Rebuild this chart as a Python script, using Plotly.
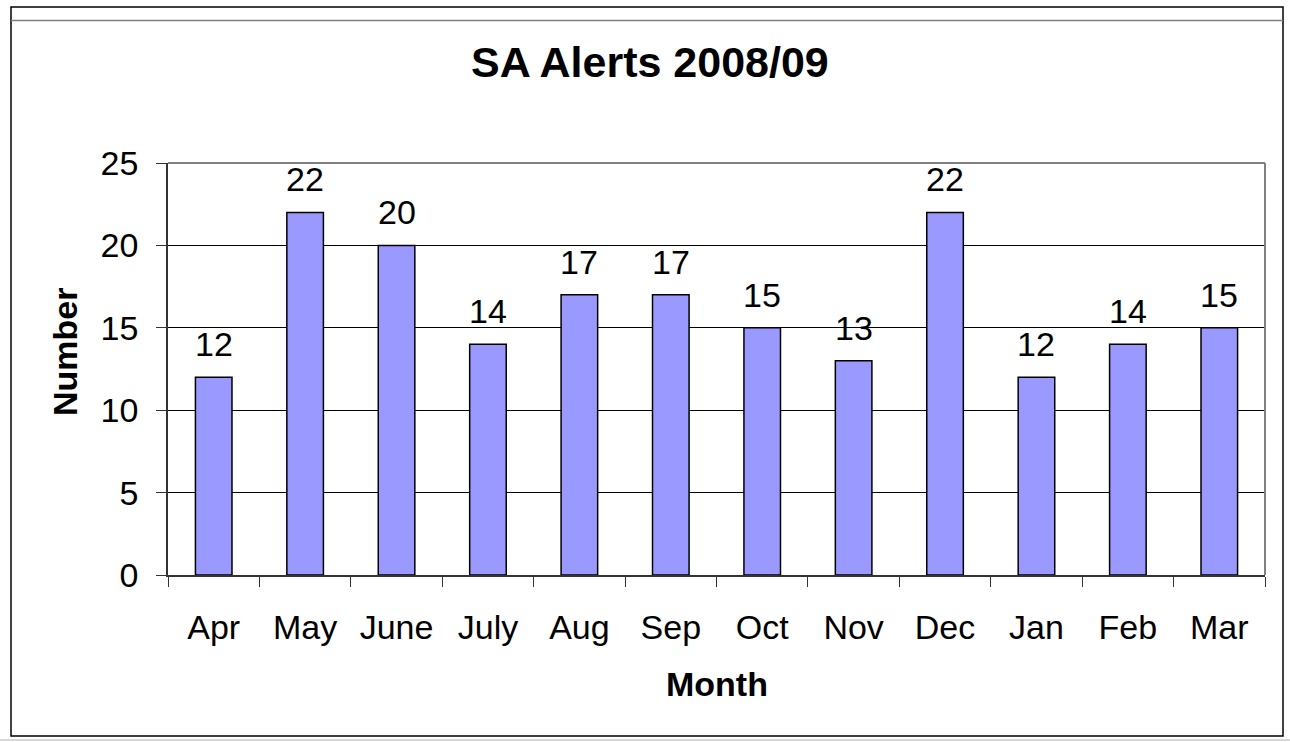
import plotly.graph_objects as go

months = ["Apr", "May", "June", "July", "Aug", "Sep", "Oct", "Nov", "Dec", "Jan", "Feb", "Mar"]
alerts = [12, 22, 20, 14, 17, 17, 15, 13, 22, 12, 14, 15]
y_ticks = [0, 5, 10, 15, 20, 25]

W, H = 1290, 742
L, R, T, B = 168, 1265, 163, 575

def px(x):
    return (x - L) / (R - L)

def py(y):
    return (B - y) / (B - T)

FONT = "Liberation Sans, Arial, sans-serif"

fig = go.Figure()
fig.add_trace(go.Bar(
    x=months, y=alerts, width=0.4,
    marker=dict(color="#9999FF", line=dict(color="black", width=1.5)),
    cliponaxis=False,
))

label_annotations = [
    dict(x=m, y=v, xref="x", yref="y", text=str(v), showarrow=False,
         xanchor="center", yanchor="bottom", yshift=12,
         font=dict(family=FONT, size=34, color="black"))
    for m, v in zip(months, alerts)
]

fig.update_layout(
    width=W, height=H,
    margin=dict(l=L, r=W - R, t=T, b=H - B, pad=0),
    paper_bgcolor="white", plot_bgcolor="white",
    showlegend=False,
    font=dict(family=FONT, color="black"),
    xaxis=dict(
        type="category", tickson="boundaries", ticks="outside", ticklen=10,
        tickcolor="#333", tickwidth=1, showgrid=False,
        showline=True, linecolor="#333", linewidth=1.5,
        tickfont=dict(family=FONT, size=34, color="black"),
        ticklabelstandoff=21,
    ),
    yaxis=dict(
        range=[0, 25], tickvals=y_ticks, ticks="outside", ticklen=10,
        tickcolor="#333", tickwidth=1,
        showgrid=True, gridcolor="black", gridwidth=1,
        showline=True, linecolor="#333", linewidth=1.5,
        zeroline=False,
        tickfont=dict(family=FONT, size=34, color="black"),
        ticklabelstandoff=11,
    ),
    shapes=[
        dict(type="line", xref="paper", yref="paper", x0=0, x1=1, y0=1, y1=1,
             line=dict(color="#808080", width=2)),
        dict(type="line", xref="paper", yref="paper", x0=1, x1=1, y0=0, y1=1,
             line=dict(color="#808080", width=2)),
        dict(type="rect", xref="paper", yref="paper",
             x0=px(11), x1=px(1283), y0=py(736), y1=py(7),
             line=dict(color="black", width=1.5), layer="below"),
        dict(type="line", xref="paper", yref="paper",
             x0=px(11), x1=px(1283), y0=py(20.5), y1=py(20.5),
             line=dict(color="#808080", width=1.5)),
        dict(type="line", xref="paper", yref="paper",
             x0=px(0), x1=px(1290), y0=py(740), y1=py(740),
             line=dict(color="#b0b0b0", width=1)),
    ],
    annotations=label_annotations + [
        dict(text="<b>SA Alerts 2008/09</b>", xref="paper", yref="paper",
             x=px(650), y=py(62), xanchor="center", yanchor="middle",
             showarrow=False, font=dict(family=FONT, size=43, color="black")),
        dict(text="<b>Month</b>", xref="paper", yref="paper",
             x=px(717), y=py(684), xanchor="center", yanchor="middle",
             showarrow=False, font=dict(family=FONT, size=34, color="black")),
        dict(text="<b>Number</b>", xref="paper", yref="paper",
             x=px(65), y=py(352), xanchor="center", yanchor="middle",
             textangle=-90, showarrow=False,
             font=dict(family=FONT, size=34, color="black")),
    ],
)

fig.write_html("out.html", config={"displayModeBar": False},
               post_script="document.body.style.margin='0';document.body.style.overflow='hidden';")
